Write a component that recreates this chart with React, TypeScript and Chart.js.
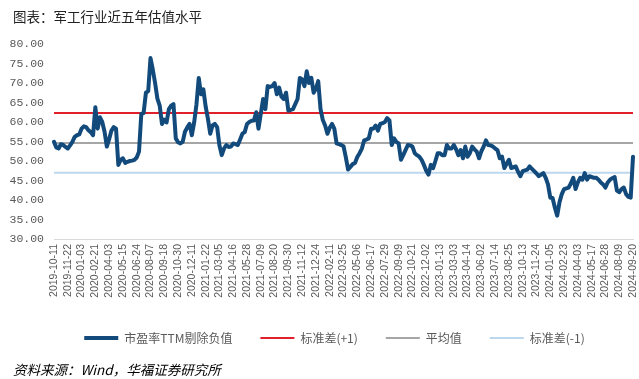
import React, { useEffect, useRef } from 'react';
import { Chart, registerables } from 'chart.js';

Chart.register(...registerables);

// Tick labels shown on the x axis (one every 6 weekly observations)
const tickLabels: string[] = [
  '2019-10-11', '2019-11-22', '2020-01-03', '2020-02-21', '2020-04-03', '2020-05-15',
  '2020-06-24', '2020-08-07', '2020-09-18', '2020-10-30', '2020-12-11', '2021-01-22',
  '2021-03-05', '2021-04-16', '2021-05-28', '2021-07-09', '2021-08-20', '2021-09-30',
  '2021-11-12', '2021-12-24', '2022-02-11', '2022-03-25', '2022-05-06', '2022-06-17',
  '2022-07-29', '2022-09-09', '2022-10-21', '2022-12-02', '2023-01-13', '2023-03-03',
  '2023-04-14', '2023-06-02', '2023-07-14', '2023-08-25', '2023-10-13', '2023-11-24',
  '2024-01-05', '2024-02-23', '2024-04-03', '2024-05-17', '2024-06-28', '2024-08-09',
  '2024-09-20',
];

const TICK_EVERY = 6;

// 市盈率TTM剔除负值 (weekly)
const peValues: number[] = [
  54.9, 53.5, 53.2, 54.3, 54.1, 53.6, 53.2, 54.0, 54.9, 56.2,
  56.6, 56.8, 58.3, 58.9, 58.7, 57.9, 57.4, 56.6, 63.8, 58.3,
  61.2, 60.0, 57.5, 53.7, 55.6, 57.8, 58.7, 58.3, 49.0, 50.3,
  50.7, 49.5, 49.8, 50.0, 50.1, 50.3, 50.9, 52.4, 62.1, 62.3,
  67.5, 67.9, 76.4, 73.4, 70.0, 66.0, 64.2, 59.5, 60.6, 59.9,
  63.3, 64.2, 64.6, 55.8, 54.8, 54.5, 54.9, 57.5, 58.6, 59.5,
  56.6, 59.9, 64.5, 71.3, 67.1, 68.4, 64.0, 60.8, 57.0, 59.1,
  59.5, 58.7, 54.0, 51.5, 53.2, 54.1, 53.6, 53.7, 54.5, 54.3,
  54.1, 55.5, 57.0, 57.4, 59.5, 60.0, 60.3, 60.4, 62.5, 58.3,
  62.1, 65.9, 63.3, 69.2, 69.0, 69.2, 70.0, 67.1, 68.8, 66.5,
  65.9, 67.5, 62.9, 63.1, 63.3, 64.6, 65.9, 71.3, 70.9, 69.2,
  73.0, 70.0, 71.3, 67.5, 68.5, 70.5, 63.3, 60.5, 59.1, 57.0,
  58.5, 59.5, 58.3, 54.5, 54.3, 54.1, 53.8, 51.0, 47.8, 48.5,
  49.2, 49.5, 51.0, 52.0, 53.2, 55.3, 55.5, 55.8, 58.3, 58.3,
  59.1, 57.8, 59.5, 59.7, 60.0, 61.0, 60.4, 54.1, 55.8, 54.9,
  54.5, 50.3, 51.5, 52.8, 54.1, 54.0, 53.7, 52.0, 51.5, 51.1,
  50.3, 49.0, 47.5, 46.5, 49.0, 48.2, 50.0, 52.0, 52.0, 51.5,
  51.5, 54.1, 53.2, 53.2, 54.1, 53.0, 51.5, 52.8, 50.7, 53.7,
  51.1, 52.0, 53.7, 53.0, 52.4, 50.7, 52.5, 53.7, 55.3, 54.1,
  54.0, 53.7, 53.2, 52.8, 50.7, 51.1, 48.2, 49.3, 50.3, 48.2,
  48.4, 48.6, 47.2, 46.1, 47.4, 47.6, 47.8, 48.6, 48.0, 47.4,
  46.8, 46.1, 46.5, 46.9, 45.7, 44.0, 40.6, 40.5, 38.0, 36.0,
  39.4, 41.5, 42.8, 43.0, 43.2, 44.3, 45.7, 42.8, 44.5, 45.7,
  45.2, 46.9, 45.2, 46.1, 45.9, 45.7, 45.7, 45.2, 44.5, 44.0,
  43.2, 44.5, 45.2, 45.6, 45.9, 42.4, 42.0, 42.8, 43.2, 41.5,
  40.8, 40.6, 51.1,
];

// Reference levels
const PLUS_ONE_SD = 62.3;
const MEAN_VALUE = 54.6;
const MINUS_ONE_SD = 47.0;

// Y axis
const Y_MIN = 30;
const Y_MAX = 80;
const Y_STEP = 5;

const seriesNames = ['市盈率TTM剔除负值', '标准差(+1)', '平均值', '标准差(-1)'];

const categories: string[] = peValues.map((_, i) =>
  i % TICK_EVERY === 0 ? tickLabels[i / TICK_EVERY] ?? '' : ''
);

const shiftLegend = {
  id: 'shiftLegend',
  afterLayout(chart: any) {
    const lg = chart.legend;
    if (lg) {
      lg.left += 18;
      lg.right += 18;
    }
  },
};

export default function App() {
  const canvasRef = useRef<HTMLCanvasElement | null>(null);

  useEffect(() => {
    if (!canvasRef.current) return;
    const n = peValues.length;
    const chart = new Chart(canvasRef.current, {
      type: 'line',
      data: {
        labels: categories,
        datasets: [
          {
            label: seriesNames[0],
            data: peValues,
            borderColor: '#124A7C',
            backgroundColor: '#124A7C',
            borderWidth: 4,
            pointRadius: 0,
            tension: 0,
            borderJoinStyle: 'round',
            borderCapStyle: 'round',
          },
          {
            label: seriesNames[1],
            data: new Array(n).fill(PLUS_ONE_SD),
            borderColor: '#E0202A',
            backgroundColor: '#E0202A',
            borderWidth: 2,
            pointRadius: 0,
          },
          {
            label: seriesNames[2],
            data: new Array(n).fill(MEAN_VALUE),
            borderColor: '#A6A6A6',
            backgroundColor: '#A6A6A6',
            borderWidth: 2,
            pointRadius: 0,
          },
          {
            label: seriesNames[3],
            data: new Array(n).fill(MINUS_ONE_SD),
            borderColor: '#BDD7EE',
            backgroundColor: '#BDD7EE',
            borderWidth: 2,
            pointRadius: 0,
          },
        ],
      },
      options: {
        responsive: false,
        animation: false,
        layout: { padding: { top: 44, right: 6, bottom: 25, left: 0 } },
        plugins: {
          tooltip: { enabled: false },
          title: { display: false },
          legend: {
            position: 'bottom',
            labels: {
              usePointStyle: true,
              pointStyle: 'line',
              pointStyleWidth: 34,
              boxHeight: 12,
              padding: 28,
              color: '#595959',
              font: { family: '"Noto Sans CJK SC", "Noto Sans", sans-serif', size: 12 },
            },
          },
        },
        scales: {
          x: {
            type: 'category',
            grid: { display: false, drawTicks: false },
            border: { display: true, color: '#D9D9D9', width: 1 },
            ticks: {
              autoSkip: false,
              maxRotation: 90,
              minRotation: 90,
              padding: 5,
              color: '#595959',
              font: { family: '"Liberation Sans", Arial, sans-serif', size: 10.5 },
              callback: (_v: any, index: number) =>
                index % TICK_EVERY === 0 ? tickLabels[index / TICK_EVERY] : null,
            },
            afterFit: (scale: any) => {
              scale.height = 65;
              scale.paddingLeft = 0;
              scale.paddingRight = 0;
            },
          },
          y: {
            min: Y_MIN,
            max: Y_MAX,
            grid: { display: false, drawTicks: false },
            border: { display: false },
            ticks: {
              stepSize: Y_STEP,
              padding: 10,
              color: '#595959',
              font: { family: '"Liberation Mono", monospace', size: 11.5 },
              callback: (v: any) => Number(v).toFixed(2),
            },
            afterFit: (scale: any) => {
              scale.width = 54;
              scale.paddingTop = 0;
              scale.paddingBottom = 0;
            },
          },
        },
      },
      plugins: [shiftLegend],
    });
    return () => chart.destroy();
  }, []);

  return (
    <div
      style={{
        position: 'fixed',
        left: 0,
        top: 0,
        width: 639,
        height: 379,
        background: '#ffffff',
        overflow: 'hidden',
      }}
    >
      <canvas
        ref={canvasRef}
        width={639}
        height={379}
        style={{ position: 'absolute', left: 0, top: 0, width: 639, height: 379 }}
      />
      <div
        style={{
          position: 'absolute',
          left: 13,
          top: 7,
          fontSize: 13.5,
          lineHeight: '18px',
          color: '#222222',
          fontFamily: '"Noto Sans CJK SC", "Noto Sans", sans-serif',
          whiteSpace: 'nowrap',
        }}
      >
        图表：军工行业近五年估值水平
      </div>
      <div
        style={{
          position: 'absolute',
          left: 13,
          top: 360,
          fontSize: 13.5,
          lineHeight: '18px',
          fontStyle: 'italic',
          color: '#000000',
          fontFamily: '"Noto Sans CJK SC", "Noto Sans", sans-serif',
          whiteSpace: 'nowrap',
        }}
      >
        资料来源：Wind，华福证券研究所
      </div>
    </div>
  );
}
